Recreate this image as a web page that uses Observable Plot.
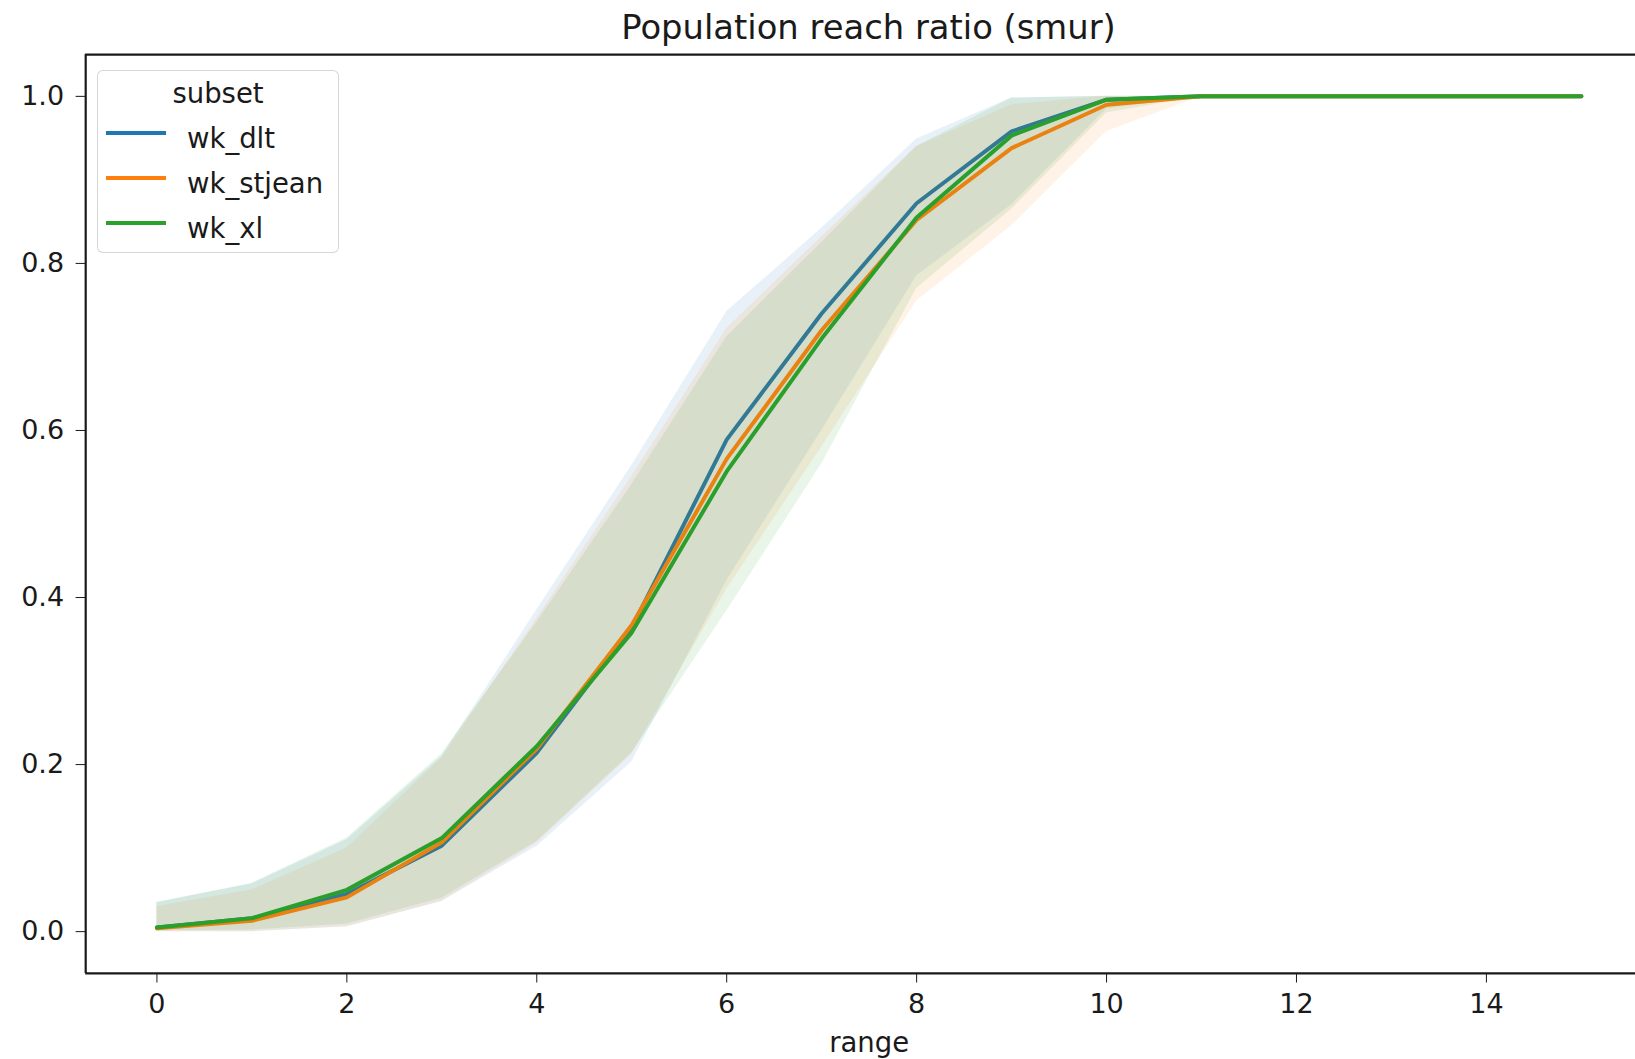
<!DOCTYPE html>
<html>
<head>
<meta charset="utf-8">
<script src="https://cdn.jsdelivr.net/npm/d3@7"></script>
<script src="https://cdn.jsdelivr.net/npm/@observablehq/plot@0.6"></script>
<style>
  html, body { margin: 0; padding: 0; background: #fff; overflow: hidden; }
  body { width: 1635px; height: 1059px; position: relative; font-family: "DejaVu Sans", sans-serif; color: #1a1a1a; }
  #title { height: 52px; line-height: 56px; padding-left: 102px; text-align: center; font-size: 33.8px; white-space: nowrap; overflow: visible; }
  #chart svg { display: block; overflow: visible; }
  .leg-box { position: absolute; left: 97px; top: 70px; width: 242px; height: 183px; box-sizing: border-box;
             border: 1.6px solid rgba(204,204,204,0.8); border-radius: 6px; background: rgba(255,255,255,0.8); }
  .leg-text { position: absolute; font-size: 27.5px; line-height: 32px; white-space: nowrap; }
  .leg-handle { position: absolute; height: 4px; }
</style>
</head>
<body>
<div id="title">Population reach ratio (smur)</div>
<div id="chart"></div>
<script>
// ---- data ----
const ranges = [0, 1, 2, 3, 4, 5, 6, 7, 8, 9, 10, 11, 12, 13, 14, 15];
const subsets = ["wk_dlt", "wk_stjean", "wk_xl"];
const colors = ["#1f77b4", "#ff7f0e", "#2ca02c"];

const dltMean  = [0.005, 0.016, 0.045, 0.103, 0.214, 0.364, 0.589, 0.740, 0.872, 0.958, 0.996, 1, 1, 1, 1, 1];
const dltLow   = [0.000, 0.000, 0.006, 0.036, 0.102, 0.203, 0.420, 0.600, 0.785, 0.870, 0.985, 1, 1, 1, 1, 1];
const dltHigh  = [0.035, 0.057, 0.110, 0.210, 0.385, 0.558, 0.742, 0.842, 0.949, 0.998, 1.000, 1, 1, 1, 1, 1];

const stjMean  = [0.004, 0.013, 0.041, 0.107, 0.219, 0.367, 0.566, 0.720, 0.852, 0.938, 0.990, 1, 1, 1, 1, 1];
const stjLow   = [0.000, 0.000, 0.006, 0.036, 0.106, 0.212, 0.410, 0.580, 0.755, 0.845, 0.958, 1, 1, 1, 1, 1];
const stjHigh  = [0.030, 0.050, 0.100, 0.208, 0.375, 0.545, 0.722, 0.832, 0.940, 0.990, 1.000, 1, 1, 1, 1, 1];

const xlMean   = [0.005, 0.016, 0.050, 0.112, 0.222, 0.358, 0.551, 0.710, 0.855, 0.953, 0.996, 1, 1, 1, 1, 1];
const xlLow    = [0.001, 0.002, 0.009, 0.040, 0.108, 0.214, 0.384, 0.560, 0.770, 0.865, 0.980, 1, 1, 1, 1, 1];
const xlHigh   = [0.035, 0.058, 0.112, 0.213, 0.370, 0.535, 0.712, 0.825, 0.940, 0.998, 1.000, 1, 1, 1, 1, 1];

const xTicks = [0, 2, 4, 6, 8, 10, 12, 14];
const yTicks = [0, 0.2, 0.4, 0.6, 0.8, 1.0];
const xLabel = "range";
const legendTitle = "subset";

// ---- build tables ----
const seriesStats = {
  wk_dlt: [dltMean, dltLow, dltHigh],
  wk_stjean: [stjMean, stjLow, stjHigh],
  wk_xl: [xlMean, xlLow, xlHigh]
};
const rows = subsets.flatMap(s => ranges.map((r, i) => ({
  subset: s, range: r,
  value: seriesStats[s][0][i], lower: seriesStats[s][1][i], upper: seriesStats[s][2][i]
})));

const xDomain = [-0.75, 15.57];
const yDomain = [-0.05, 1.05];
const spine = "#1a1a1a";

const marks = [];
subsets.forEach((s, k) => {
  const d = rows.filter(r => r.subset === s);
  marks.push(Plot.line(d, {x: "range", y: "value", stroke: colors[k], strokeWidth: 4}));
  marks.push(Plot.areaY(d, {x: "range", y1: "lower", y2: "upper", fill: colors[k], fillOpacity: 0.1}));
});
marks.push(Plot.ruleX([xDomain[0]], {stroke: spine, strokeWidth: 2.2}));
marks.push(Plot.ruleY(yDomain, {stroke: spine, strokeWidth: 2.2}));
// x axis title, centred on the full (uncropped) axes box
marks.push(Plot.text([xLabel], {text: d => d, frameAnchor: "bottom", dx: 8.6, dy: 70, lineAnchor: "middle",
  fontSize: 27.5, fill: "#1a1a1a"}));

const chart = Plot.plot({
  width: 1635,
  height: 1007,
  marginLeft: 85.2,
  marginRight: 0,
  marginTop: 2.1,
  marginBottom: 86.1,
  style: {fontFamily: "DejaVu Sans", fontSize: "27px", color: "#1a1a1a", background: "transparent", overflow: "visible"},
  x: {domain: xDomain, ticks: xTicks, tickSize: 9.6, tickPadding: 11, tickFormat: d => String(d), label: null},
  y: {domain: yDomain, ticks: yTicks, tickSize: 9.6, tickPadding: 12, tickFormat: d3.format(".1f"), label: null},
  marks
});
document.getElementById("chart").appendChild(chart);

// ---- legend (overlay inside axes, built from the arrays) ----
const legend = document.createElement("div");
legend.className = "leg-box";
document.body.appendChild(legend);
const t = document.createElement("div");
t.className = "leg-text";
t.textContent = legendTitle;
t.style.left = "97px"; t.style.width = "242px"; t.style.textAlign = "center"; t.style.top = "77px";
document.body.appendChild(t);
subsets.forEach((s, i) => {
  const cy = 133.3 + 45 * i;
  const h = document.createElement("div");
  h.className = "leg-handle";
  h.style.left = "106px"; h.style.width = "60px"; h.style.top = (cy - 2) + "px"; h.style.background = colors[i];
  document.body.appendChild(h);
  const lt = document.createElement("div");
  lt.className = "leg-text";
  lt.textContent = s;
  lt.style.left = "187px"; lt.style.top = (cy - 11.5) + "px";
  document.body.appendChild(lt);
});
</script>
</body>
</html>
